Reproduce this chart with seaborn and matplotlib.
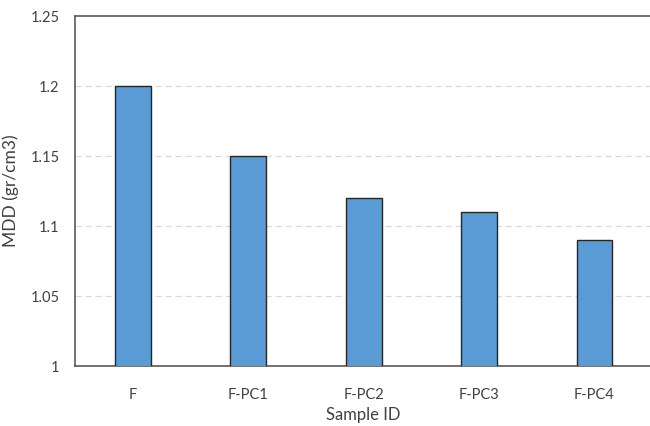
import matplotlib
matplotlib.use("Agg")
import matplotlib.pyplot as plt
import seaborn as sns
import pandas as pd

# =====================================================
# DATA
# =====================================================

samples = ["F", "F-PC1", "F-PC2", "F-PC3", "F-PC4"]
mdd = [1.20, 1.15, 1.12, 1.11, 1.09]
y_ticks = [1, 1.05, 1.1, 1.15, 1.2, 1.25]
y_tick_labels = ["1", "1.05", "1.1", "1.15", "1.2", "1.25"]

df = pd.DataFrame({"sample": samples, "mdd": mdd})

# =====================================================
# STYLE
# =====================================================

sns.set_style("white")
plt.rcParams["font.family"] = ["Lato", "DejaVu Sans"]

text_color = "#404040"

fig = plt.figure(figsize=(6.5, 4.26), dpi=100)
ax = fig.add_axes([0.1154, 0.1408, 0.888, 0.8216])

sns.barplot(
    data=df,
    x="sample",
    y="mdd",
    color="#5B9BD5",
    saturation=1,
    width=0.31,
    edgecolor="#262626",
    linewidth=1.0,
    ax=ax,
    zorder=3
)

ax.set_ylim(1, 1.25)
ax.set_xlim(-0.5, 4.5)
ax.set_yticks(y_ticks)
ax.set_yticklabels(y_tick_labels)

for y in y_ticks[1:-1]:
    ax.axhline(y, color="#D9D9D9", linestyle=(0, (5, 3)), linewidth=0.9, zorder=1)

for side in ["left", "bottom", "top"]:
    ax.spines[side].set_visible(True)
    ax.spines[side].set_color("#595959")
    ax.spines[side].set_linewidth(1.2)
ax.spines["right"].set_visible(False)

ax.tick_params(axis="both", length=0, labelsize=10.5, colors=text_color)
ax.tick_params(axis="y", pad=11)
ax.tick_params(axis="x", pad=16)

ax.set_xlabel("Sample ID", fontsize=12, color=text_color)
ax.xaxis.set_label_coords(0.5, -0.118)
ax.set_ylabel("MDD (gr/cm3)", fontsize=12.5, color=text_color)
ax.yaxis.set_label_coords(-0.097, 0.5)

fig.savefig("out.png", dpi=100)
plt.close(fig)
